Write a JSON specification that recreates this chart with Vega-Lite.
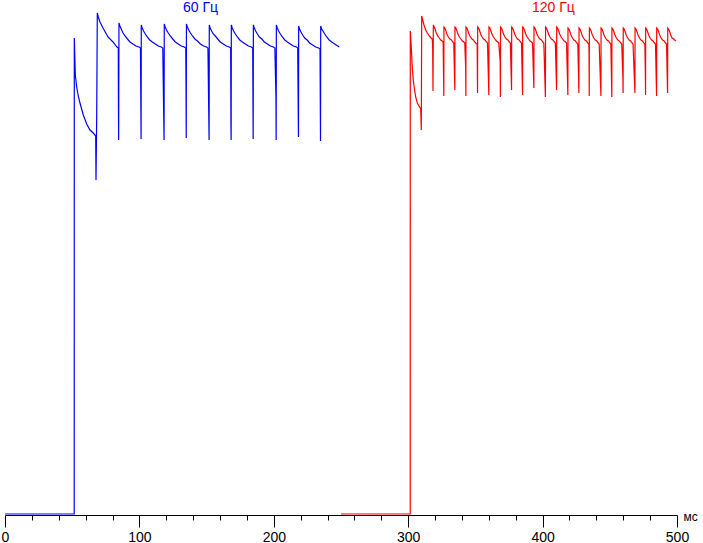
{
  "$schema": "https://vega.github.io/schema/vega-lite/v6.json",
  "width": 672,
  "height": 515,
  "autosize": {"type": "none"},
  "padding": {"left": 5, "top": 0, "right": 26, "bottom": 28},
  "background": "white",
  "config": {"view": {"stroke": null}, "font": "Liberation Sans"},
  "datasets": {
    "blue": [
      {"t": 0, "v": 1}, {"t": 25, "v": 1}, {"t": 51.5, "v": 1},
      {"t": 51.56, "v": 477}, {"t": 52.31, "v": 440}, {"t": 53.35, "v": 428}, {"t": 54.54, "v": 419}, {"t": 55.8, "v": 412}, {"t": 58.26, "v": 400}, {"t": 60.79, "v": 391}, {"t": 63.24, "v": 385}, {"t": 65.7, "v": 382}, {"t": 67.49, "v": 379}, {"t": 67.71, "v": 335}, {"t": 68.23, "v": 398},
      {"t": 68.68, "v": 502}, {"t": 69.42, "v": 498}, {"t": 70.68, "v": 493}, {"t": 72.92, "v": 487}, {"t": 76.64, "v": 478}, {"t": 80.36, "v": 473}, {"t": 83.33, "v": 468}, {"t": 84.3, "v": 467}, {"t": 84.4, "v": 415}, {"t": 84.55, "v": 375},
      {"t": 84.8, "v": 492}, {"t": 85.5, "v": 489}, {"t": 86.5, "v": 486}, {"t": 87.8, "v": 482}, {"t": 89.3, "v": 479}, {"t": 91.1, "v": 476}, {"t": 93.0, "v": 473}, {"t": 95.2, "v": 471}, {"t": 97.4, "v": 469}, {"t": 99.7, "v": 468}, {"t": 100.8, "v": 467}, {"t": 101.25, "v": 376},
      {"t": 101.4, "v": 490}, {"t": 102.1, "v": 487}, {"t": 103.1, "v": 484}, {"t": 104.4, "v": 481}, {"t": 105.9, "v": 478}, {"t": 107.7, "v": 475}, {"t": 109.6, "v": 473}, {"t": 111.8, "v": 471}, {"t": 114.1, "v": 469}, {"t": 116.3, "v": 468}, {"t": 117.4, "v": 467}, {"t": 118.2, "v": 389}, {"t": 118.35, "v": 375},
      {"t": 118.5, "v": 491}, {"t": 119.2, "v": 488}, {"t": 120.2, "v": 485}, {"t": 121.5, "v": 482}, {"t": 123.0, "v": 479}, {"t": 124.8, "v": 476}, {"t": 126.7, "v": 473}, {"t": 128.9, "v": 471}, {"t": 131.2, "v": 469}, {"t": 133.4, "v": 468}, {"t": 134.5, "v": 467}, {"t": 134.7, "v": 428}, {"t": 134.85, "v": 377},
      {"t": 135.0, "v": 491}, {"t": 135.7, "v": 488}, {"t": 136.7, "v": 485}, {"t": 138.0, "v": 482}, {"t": 139.5, "v": 479}, {"t": 141.3, "v": 476}, {"t": 143.2, "v": 474}, {"t": 145.4, "v": 471}, {"t": 147.7, "v": 469}, {"t": 149.9, "v": 468}, {"t": 151.0, "v": 467}, {"t": 151.85, "v": 375},
      {"t": 152.0, "v": 490}, {"t": 152.7, "v": 487}, {"t": 153.7, "v": 484}, {"t": 155.0, "v": 481}, {"t": 156.5, "v": 479}, {"t": 158.3, "v": 476}, {"t": 160.2, "v": 473}, {"t": 162.4, "v": 471}, {"t": 164.7, "v": 469}, {"t": 166.9, "v": 468}, {"t": 167.9, "v": 467}, {"t": 168.1, "v": 390}, {"t": 168.25, "v": 375},
      {"t": 168.4, "v": 490}, {"t": 169.1, "v": 487}, {"t": 170.1, "v": 484}, {"t": 171.4, "v": 481}, {"t": 172.9, "v": 478}, {"t": 174.7, "v": 475}, {"t": 176.6, "v": 473}, {"t": 178.8, "v": 471}, {"t": 181.1, "v": 469}, {"t": 183.3, "v": 468}, {"t": 184.3, "v": 467}, {"t": 184.65, "v": 376},
      {"t": 184.8, "v": 490}, {"t": 185.5, "v": 487}, {"t": 186.5, "v": 484}, {"t": 187.8, "v": 481}, {"t": 189.3, "v": 478}, {"t": 191.1, "v": 476}, {"t": 193.0, "v": 473}, {"t": 195.2, "v": 471}, {"t": 197.5, "v": 469}, {"t": 199.7, "v": 468}, {"t": 200.8, "v": 467}, {"t": 201.6, "v": 418}, {"t": 201.75, "v": 375},
      {"t": 201.9, "v": 490}, {"t": 202.6, "v": 487}, {"t": 203.6, "v": 484}, {"t": 204.9, "v": 481}, {"t": 206.4, "v": 478}, {"t": 208.2, "v": 475}, {"t": 210.1, "v": 473}, {"t": 212.3, "v": 471}, {"t": 214.6, "v": 469}, {"t": 216.8, "v": 468}, {"t": 217.8, "v": 467}, {"t": 218.2, "v": 400}, {"t": 218.35, "v": 378},
      {"t": 218.5, "v": 489}, {"t": 219.2, "v": 486}, {"t": 220.2, "v": 483}, {"t": 221.5, "v": 480}, {"t": 223.0, "v": 477}, {"t": 224.8, "v": 475}, {"t": 226.7, "v": 472}, {"t": 228.9, "v": 470}, {"t": 231.2, "v": 468}, {"t": 233.4, "v": 467}, {"t": 234.4, "v": 466}, {"t": 234.75, "v": 374},
      {"t": 234.9, "v": 489}, {"t": 235.6, "v": 486}, {"t": 236.6, "v": 484}, {"t": 237.9, "v": 481}, {"t": 239.4, "v": 478}, {"t": 241.2, "v": 475}, {"t": 243.1, "v": 473}, {"t": 245.3, "v": 471}, {"t": 247.6, "v": 469}, {"t": 248.7, "v": 468}
    ],
    "red": [
      {"t": 250.0, "v": 1}, {"t": 275.0, "v": 1}, {"t": 301.5, "v": 1},
      {"t": 301.56, "v": 484}, {"t": 302.31, "v": 467}, {"t": 303.05, "v": 447}, {"t": 303.79, "v": 435}, {"t": 304.54, "v": 427}, {"t": 305.58, "v": 418}, {"t": 306.77, "v": 412}, {"t": 308.04, "v": 409}, {"t": 309.3, "v": 406}, {"t": 309.75, "v": 385},
      {"t": 310.04, "v": 499}, {"t": 310.79, "v": 495}, {"t": 311.76, "v": 490}, {"t": 313.02, "v": 485}, {"t": 314.21, "v": 482}, {"t": 315.7, "v": 479}, {"t": 316.96, "v": 477}, {"t": 317.93, "v": 476}, {"t": 318.2, "v": 467}, {"t": 318.45, "v": 424},
      {"t": 318.7, "v": 490}, {"t": 319.4, "v": 488}, {"t": 320.2, "v": 485}, {"t": 320.9, "v": 482}, {"t": 322.0, "v": 479}, {"t": 323.1, "v": 477}, {"t": 324.2, "v": 475}, {"t": 325.3, "v": 474}, {"t": 326.0, "v": 473}, {"t": 326.5, "v": 419},
      {"t": 326.6, "v": 488}, {"t": 327.3, "v": 487}, {"t": 328.1, "v": 484}, {"t": 328.8, "v": 481}, {"t": 329.9, "v": 478}, {"t": 331.0, "v": 476}, {"t": 332.1, "v": 475}, {"t": 333.2, "v": 473}, {"t": 333.9, "v": 472}, {"t": 334.7, "v": 425},
      {"t": 334.8, "v": 488}, {"t": 335.5, "v": 487}, {"t": 336.3, "v": 484}, {"t": 337.0, "v": 481}, {"t": 338.1, "v": 478}, {"t": 339.2, "v": 476}, {"t": 340.3, "v": 474}, {"t": 341.4, "v": 473}, {"t": 342.1, "v": 472}, {"t": 342.75, "v": 448}, {"t": 342.9, "v": 419},
      {"t": 343.0, "v": 488}, {"t": 343.7, "v": 487}, {"t": 344.5, "v": 484}, {"t": 345.2, "v": 481}, {"t": 346.3, "v": 478}, {"t": 347.4, "v": 476}, {"t": 348.5, "v": 475}, {"t": 349.6, "v": 473}, {"t": 350.3, "v": 472}, {"t": 351.3, "v": 471}, {"t": 351.6, "v": 422},
      {"t": 351.7, "v": 488}, {"t": 352.4, "v": 487}, {"t": 353.2, "v": 484}, {"t": 353.9, "v": 481}, {"t": 355.0, "v": 478}, {"t": 356.1, "v": 476}, {"t": 357.2, "v": 475}, {"t": 358.3, "v": 473}, {"t": 359.0, "v": 472}, {"t": 360.0, "v": 420},
      {"t": 360.1, "v": 488}, {"t": 360.8, "v": 487}, {"t": 361.6, "v": 484}, {"t": 362.3, "v": 481}, {"t": 363.4, "v": 478}, {"t": 364.5, "v": 476}, {"t": 365.6, "v": 474}, {"t": 366.7, "v": 473}, {"t": 367.4, "v": 472}, {"t": 368.45, "v": 453}, {"t": 368.6, "v": 418},
      {"t": 368.7, "v": 488}, {"t": 369.4, "v": 487}, {"t": 370.2, "v": 484}, {"t": 370.9, "v": 481}, {"t": 372.0, "v": 478}, {"t": 373.1, "v": 476}, {"t": 374.2, "v": 475}, {"t": 375.3, "v": 473}, {"t": 376.0, "v": 472}, {"t": 376.9, "v": 425},
      {"t": 377.0, "v": 488}, {"t": 377.7, "v": 487}, {"t": 378.5, "v": 484}, {"t": 379.2, "v": 481}, {"t": 380.3, "v": 478}, {"t": 381.4, "v": 476}, {"t": 382.5, "v": 475}, {"t": 383.6, "v": 473}, {"t": 384.3, "v": 472}, {"t": 385.1, "v": 420},
      {"t": 385.2, "v": 488}, {"t": 385.9, "v": 487}, {"t": 386.7, "v": 484}, {"t": 387.4, "v": 481}, {"t": 388.5, "v": 478}, {"t": 389.6, "v": 476}, {"t": 390.7, "v": 474}, {"t": 391.8, "v": 473}, {"t": 392.5, "v": 472}, {"t": 393.5, "v": 427},
      {"t": 393.6, "v": 488}, {"t": 394.3, "v": 487}, {"t": 395.1, "v": 484}, {"t": 395.8, "v": 481}, {"t": 396.9, "v": 478}, {"t": 398.0, "v": 476}, {"t": 399.1, "v": 475}, {"t": 400.2, "v": 473}, {"t": 400.9, "v": 472}, {"t": 402.1, "v": 418},
      {"t": 402.2, "v": 488}, {"t": 402.9, "v": 487}, {"t": 403.7, "v": 484}, {"t": 404.4, "v": 481}, {"t": 405.5, "v": 478}, {"t": 406.6, "v": 476}, {"t": 407.7, "v": 475}, {"t": 408.8, "v": 473}, {"t": 409.5, "v": 472}, {"t": 410.4, "v": 425},
      {"t": 410.5, "v": 488}, {"t": 411.2, "v": 487}, {"t": 412.0, "v": 484}, {"t": 412.7, "v": 481}, {"t": 413.8, "v": 478}, {"t": 414.9, "v": 476}, {"t": 416.0, "v": 474}, {"t": 417.1, "v": 473}, {"t": 417.8, "v": 472}, {"t": 418.8, "v": 420},
      {"t": 418.9, "v": 487}, {"t": 419.6, "v": 486}, {"t": 420.4, "v": 483}, {"t": 421.1, "v": 480}, {"t": 422.2, "v": 477}, {"t": 423.3, "v": 475}, {"t": 424.4, "v": 474}, {"t": 425.5, "v": 472}, {"t": 426.2, "v": 471}, {"t": 426.85, "v": 432}, {"t": 427.0, "v": 422},
      {"t": 427.1, "v": 487}, {"t": 427.8, "v": 486}, {"t": 428.6, "v": 483}, {"t": 429.3, "v": 480}, {"t": 430.4, "v": 477}, {"t": 431.5, "v": 475}, {"t": 432.6, "v": 474}, {"t": 433.7, "v": 472}, {"t": 434.4, "v": 471}, {"t": 434.55, "v": 462}, {"t": 434.7, "v": 419},
      {"t": 434.8, "v": 487}, {"t": 435.5, "v": 486}, {"t": 436.3, "v": 483}, {"t": 437.0, "v": 480}, {"t": 438.1, "v": 477}, {"t": 439.2, "v": 475}, {"t": 440.3, "v": 474}, {"t": 441.4, "v": 472}, {"t": 442.1, "v": 471}, {"t": 443.4, "v": 419},
      {"t": 443.5, "v": 487}, {"t": 444.2, "v": 486}, {"t": 445.0, "v": 483}, {"t": 445.7, "v": 480}, {"t": 446.8, "v": 477}, {"t": 447.9, "v": 475}, {"t": 449.0, "v": 474}, {"t": 450.1, "v": 472}, {"t": 450.8, "v": 471}, {"t": 451.5, "v": 418},
      {"t": 451.6, "v": 487}, {"t": 452.3, "v": 486}, {"t": 453.1, "v": 483}, {"t": 453.8, "v": 480}, {"t": 454.9, "v": 477}, {"t": 456.0, "v": 475}, {"t": 457.1, "v": 474}, {"t": 458.2, "v": 472}, {"t": 458.9, "v": 471}, {"t": 459.75, "v": 437}, {"t": 459.9, "v": 422},
      {"t": 460.0, "v": 487}, {"t": 460.7, "v": 486}, {"t": 461.5, "v": 483}, {"t": 462.2, "v": 480}, {"t": 463.3, "v": 477}, {"t": 464.4, "v": 475}, {"t": 465.5, "v": 474}, {"t": 466.6, "v": 472}, {"t": 467.3, "v": 471}, {"t": 468.7, "v": 422},
      {"t": 468.8, "v": 487}, {"t": 469.5, "v": 486}, {"t": 470.3, "v": 483}, {"t": 471.0, "v": 480}, {"t": 472.1, "v": 477}, {"t": 473.2, "v": 475}, {"t": 474.3, "v": 474}, {"t": 475.4, "v": 472}, {"t": 476.1, "v": 471}, {"t": 476.45, "v": 442}, {"t": 476.6, "v": 420},
      {"t": 476.7, "v": 487}, {"t": 477.4, "v": 486}, {"t": 478.2, "v": 483}, {"t": 478.9, "v": 480}, {"t": 480.0, "v": 477}, {"t": 481.1, "v": 475}, {"t": 482.2, "v": 474}, {"t": 483.3, "v": 472}, {"t": 484.0, "v": 471}, {"t": 484.8, "v": 419},
      {"t": 484.9, "v": 487}, {"t": 485.6, "v": 486}, {"t": 486.4, "v": 483}, {"t": 487.1, "v": 480}, {"t": 488.2, "v": 477}, {"t": 489.3, "v": 475}, {"t": 490.4, "v": 474}, {"t": 491.5, "v": 472}, {"t": 492.2, "v": 471}, {"t": 493.0, "v": 422},
      {"t": 493.1, "v": 487}, {"t": 493.8, "v": 486}, {"t": 494.6, "v": 483}, {"t": 495.3, "v": 480}, {"t": 496.4, "v": 477}, {"t": 497.5, "v": 476}, {"t": 498.3, "v": 475}, {"t": 499.0, "v": 474}
    ],
    "labels": [
      {"label": "60 Гц", "t": 145.5, "v": 503, "series": "60 Гц"},
      {"label": "120 Гц", "t": 408, "v": 503, "series": "120 Гц"}
    ]
  },
  "encoding": {
    "x": {
      "field": "t",
      "type": "quantitative",
      "scale": {"domain": [0, 500], "nice": false, "zero": false},
      "axis": {
        "values": [0, 20, 40, 60, 80, 100, 120, 140, 160, 180, 200, 220, 240, 260, 280, 300, 320, 340, 360, 380, 400, 420, 440, 460, 480, 500],
        "labelExpr": "datum.value % 100 === 0 ? datum.label : ''",
        "tickSize": {"condition": {"test": "datum.value % 100 === 0", "value": 12}, "value": 5},
        "labelPadding": 3,
        "labelFontSize": 14,
        "labelFont": "Liberation Sans",
        "labelColor": "black",
        "labelFlush": false,
        "labelOverlap": false,
        "domainColor": "black",
        "tickColor": "black",
        "grid": false,
        "title": "мс",
        "titleFont": "Liberation Sans",
        "titleFontSize": 12,
        "titleFontWeight": "normal",
        "titleColor": "black",
        "titleAlign": "left",
        "titleBaseline": "alphabetic",
        "titleX": 678,
        "titleY": 5
      }
    },
    "y": {
      "field": "v",
      "type": "quantitative",
      "scale": {"domain": [0, 515], "nice": false},
      "axis": null
    }
  },
  "layer": [
    {"data": {"name": "blue"}, "mark": {"type": "line", "color": "#0000ff", "strokeWidth": 1.2}},
    {"data": {"name": "red"}, "mark": {"type": "line", "color": "#ff0000", "strokeWidth": 1.2}},
    {
      "data": {"name": "labels"},
      "mark": {"type": "text", "fontSize": 14, "font": "Liberation Sans", "fontWeight": "normal", "align": "center", "baseline": "alphabetic"},
      "encoding": {
        "text": {"field": "label", "type": "nominal"},
        "color": {"field": "series", "type": "nominal", "scale": {"domain": ["60 Гц", "120 Гц"], "range": ["#0000ff", "#ff0000"]}, "legend": null}
      }
    }
  ]
}
